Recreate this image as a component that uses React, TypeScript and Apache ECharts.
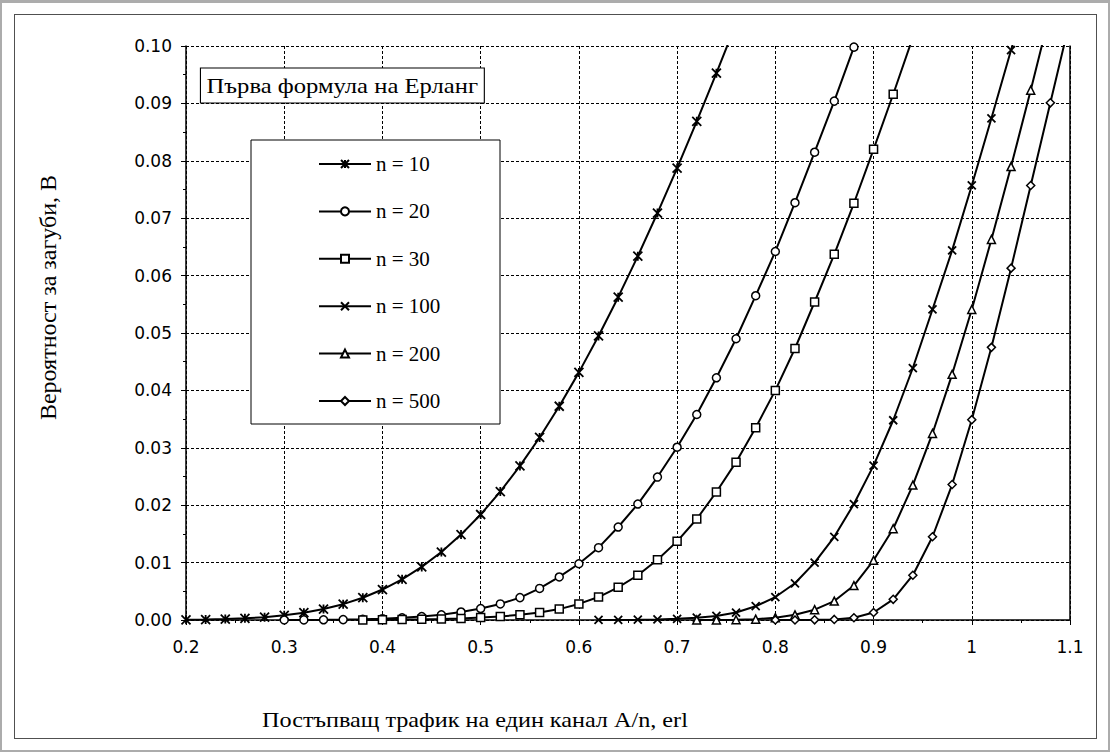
import React, { useEffect, useRef } from "react";
import * as echarts from "echarts";

// Offered traffic per channel A/n (erl) — x positions of all measured points
const LOAD = [
  0.2, 0.22, 0.24, 0.26, 0.28, 0.3, 0.32, 0.34, 0.36, 0.38, 0.4, 0.42, 0.44, 0.46, 0.48,
  0.5, 0.52, 0.54, 0.56, 0.58, 0.6, 0.62, 0.64, 0.66, 0.68, 0.7, 0.72, 0.74, 0.76, 0.78,
  0.8, 0.82, 0.84, 0.86, 0.88, 0.9, 0.92, 0.94, 0.96, 0.98, 1.0, 1.02, 1.04, 1.06, 1.08, 1.1,
];

// Blocking probability B for each number of channels n (starting load noted)
const N10_FROM = 0.2;
const B_N10 = [
  0.00004, 0.00008, 0.00016, 0.00029, 0.0005, 0.00081, 0.00127, 0.0019, 0.00276, 0.00388,
  0.00531, 0.00709, 0.00925, 0.01184, 0.01488, 0.01838, 0.02237, 0.02685, 0.0318, 0.03724,
  0.04314, 0.04949, 0.05624, 0.06339, 0.0709, 0.07874, 0.08687, 0.09526, 0.1039,
];
const N20_FROM = 0.3;
const B_N20 = [
  0.00001, 0.00002, 0.00004, 0.00007, 0.00013, 0.00023, 0.00038, 0.0006, 0.0009, 0.0014,
  0.002, 0.0028, 0.0039, 0.0055, 0.0075, 0.0098, 0.0126, 0.0162, 0.0202, 0.0249,
  0.0301, 0.0358, 0.0422, 0.049, 0.0565, 0.0642, 0.0727, 0.0815, 0.0904, 0.0998,
];
const N30_FROM = 0.38;
const B_N30 = [
  0.00002, 0.00004, 0.00007, 0.00011, 0.00018, 0.00028, 0.00042, 0.00062, 0.0009, 0.0013,
  0.0019, 0.0028, 0.004, 0.0057, 0.0078, 0.0105, 0.0137, 0.0176, 0.0223, 0.0275,
  0.0335, 0.04, 0.0473, 0.0554, 0.0637, 0.0726, 0.082, 0.0916, 0.1015,
];
const N100_FROM = 0.62;
const B_N100 = [
  0.00001, 0.00002, 0.00005, 0.0001, 0.0002, 0.0004, 0.0007, 0.0013, 0.0024, 0.004,
  0.0064, 0.01, 0.0145, 0.0202, 0.0269, 0.0348, 0.0439, 0.0541, 0.0644, 0.0757,
  0.0874, 0.0993, 0.111,
];
const N200_FROM = 0.72;
const B_N200 = [
  0.00001, 0.00002, 0.00005, 0.00015, 0.0004, 0.0009, 0.0018, 0.0033, 0.006, 0.0104,
  0.0159, 0.0235, 0.0325, 0.0428, 0.0541, 0.0663, 0.079, 0.0923, 0.106,
];
const N500_FROM = 0.8;
const B_N500 = [
  0.000002, 0.00001, 0.00003, 0.0001, 0.0004, 0.0013, 0.0036, 0.0078, 0.0145, 0.0236,
  0.0349, 0.0475, 0.0613, 0.0757, 0.0901, 0.1045,
];

const SERIES_NAMES = ["n = 10", "n = 20", "n = 30", "n = 100", "n = 200", "n = 500"];

const TITLE = "Първа формула на Ерланг";
const X_TITLE = "Постъпващ трафик на един канал A/n, erl";
const Y_TITLE = "Вероятност за загуби, B";

const STAR = "path://M0,0L10,10M10,0L0,10M5,0L5,10";
const CROSS = "path://M0,0L10,10M10,0L0,10";

function toPairs(from: number, values: number[]) {
  const i0 = LOAD.findIndex((x) => Math.abs(x - from) < 1e-9);
  return values.map((v, i) => [LOAD[i0 + i], v]);
}

export default function App() {
  const ref = useRef<HTMLDivElement>(null);

  useEffect(() => {
    document.body.style.margin = "0";
    if (!ref.current) return;
    const chart = echarts.init(ref.current, undefined, { renderer: "svg" });

    const defs = [
      { from: N10_FROM, values: B_N10, symbol: STAR, size: 9, bw: 1.8 },
      { from: N20_FROM, values: B_N20, symbol: "circle", size: 8, bw: 1.5 },
      { from: N30_FROM, values: B_N30, symbol: "rect", size: 8, bw: 1.5 },
      { from: N100_FROM, values: B_N100, symbol: CROSS, size: 8, bw: 1.8 },
      { from: N200_FROM, values: B_N200, symbol: "triangle", size: 8, bw: 1.5 },
      { from: N500_FROM, values: B_N500, symbol: "diamond", size: 8, bw: 1.5 },
    ];

    const serif = "'Liberation Serif', 'Times New Roman', serif";
    const sans = "'DejaVu Sans', sans-serif";

    chart.setOption({
      animation: false,
      backgroundColor: "transparent",
      grid: { left: 186, top: 46, width: 884, height: 574, containLabel: false },
      xAxis: {
        type: "value",
        min: 0.2,
        max: 1.1,
        interval: 0.1,
        axisLine: { show: true, onZero: false, lineStyle: { color: "#000", width: 1.5 } },
        axisTick: { show: true, length: 5, lineStyle: { color: "#000" } },
        minorTick: { show: true, splitNumber: 2, length: 3, lineStyle: { color: "#000" } },
        axisLabel: {
          margin: 18,
          color: "#000",
          fontFamily: sans,
          fontSize: 17,
          formatter: (v: number) => String(Math.round(v * 10) / 10),
        },
        splitLine: { show: true, lineStyle: { color: "#000", type: [3, 2], width: 1 } },
      },
      yAxis: [
        {
          type: "value",
          min: 0,
          max: 0.1,
          interval: 0.01,
          axisLine: { show: true, lineStyle: { color: "#000", width: 1.5 } },
          axisTick: { show: true, length: 5, lineStyle: { color: "#000" } },
          minorTick: { show: true, splitNumber: 2, length: 3, lineStyle: { color: "#000" } },
          axisLabel: {
            margin: 14,
            color: "#000",
            fontFamily: sans,
            fontSize: 17,
            formatter: (v: number) => v.toFixed(2),
          },
          splitLine: { show: true, lineStyle: { color: "#000", type: [3, 2], width: 1 } },
        },
        {
          type: "value",
          position: "right",
          min: 0,
          max: 0.1,
          interval: 0.01,
          axisLine: { show: true, lineStyle: { color: "#000", width: 1.5 } },
          axisTick: { show: false },
          axisLabel: { show: false },
          splitLine: { show: false },
        },
      ],
      legend: {
        show: true,
        selectedMode: false,
        orient: "vertical",
        left: 318,
        top: 153.5,
        padding: 0,
        itemWidth: 52,
        itemHeight: 10,
        itemGap: 26.4,
        z: 12,
        data: SERIES_NAMES,
        textStyle: { fontFamily: serif, fontSize: 21, lineHeight: 21, color: "#000" },
      },
      graphic: [
        {
          type: "rect",
          z: 10,
          shape: { x: 251, y: 140, width: 249, height: 284 },
          style: { fill: "#fff", stroke: "#000", lineWidth: 1 },
        },
        {
          type: "text",
          z: 10,
          x: 201,
          y: 68.5,
          scaleX: 1.12,
          style: {
            text: TITLE,
            fontFamily: serif,
            fontSize: 22,
            lineHeight: 22,
            fill: "#000",
            backgroundColor: "#fff",
            borderColor: "#000",
            borderWidth: 1,
            padding: [6, 5, 6, 5],
          },
        },
        {
          type: "text",
          x: 262,
          y: 719,
          scaleX: 1.1,
          style: {
            text: X_TITLE,
            fontFamily: serif,
            fontSize: 22,
            fill: "#000",
            textVerticalAlign: "middle",
          },
        },
        {
          type: "text",
          x: 47.5,
          y: 297.5,
          rotation: Math.PI / 2,
          style: {
            text: Y_TITLE,
            fontFamily: serif,
            fontSize: 24,
            fill: "#000",
            textAlign: "center",
            textVerticalAlign: "middle",
          },
        },
      ],
      series: defs.map((d, i) => ({
        name: SERIES_NAMES[i],
        type: "line",
        data: toPairs(d.from, d.values),
        symbol: d.symbol,
        symbolSize: d.size,
        showSymbol: true,
        clip: true,
        color: "#000",
        lineStyle: { color: "#000", width: 2 },
        itemStyle: { color: "#fff", borderColor: "#000", borderWidth: d.bw },
        emphasis: { disabled: true },
      })),
    });

    return () => chart.dispose();
  }, []);

  return (
    <div style={{ position: "relative", width: 1110, height: 752, background: "#acacac", overflow: "hidden" }}>
      <div style={{ position: "absolute", left: 2, top: 3, right: 2, bottom: 2, background: "#fff" }} />
      <div
        style={{
          position: "absolute",
          left: 14,
          top: 14,
          width: 1083,
          height: 725,
          border: "1px solid #505050",
          boxSizing: "border-box",
        }}
      />
      <div ref={ref} style={{ position: "absolute", left: 0, top: 0, width: 1110, height: 752 }} />
    </div>
  );
}
